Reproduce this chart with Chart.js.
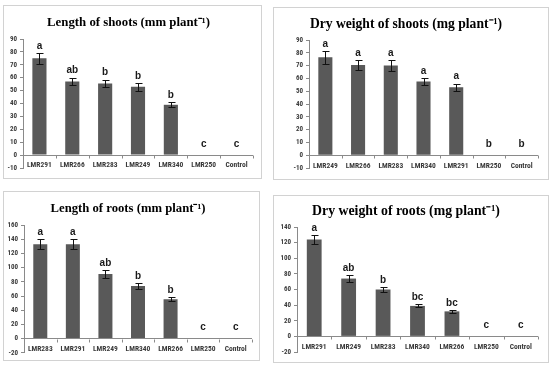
<!DOCTYPE html>
<html><head><meta charset="utf-8">
<script src="https://cdn.jsdelivr.net/npm/chart.js@4.4.0/dist/chart.umd.min.js"></script>
<style>
html,body{margin:0;padding:0;background:#fff;width:550px;height:365px;overflow:hidden}
.box{position:absolute;border:1px solid #d2d2d2;box-sizing:border-box;background:#fff}
.box canvas{display:block}
</style></head><body>
<div class="box" style="left:3px;top:5px;width:259px;height:174px"><canvas id="c1" width="257" height="172"></canvas></div>
<div class="box" style="left:273px;top:7px;width:276px;height:173px"><canvas id="c2" width="274" height="171"></canvas></div>
<div class="box" style="left:3px;top:191px;width:257px;height:170px"><canvas id="c3" width="255" height="168"></canvas></div>
<div class="box" style="left:273px;top:195px;width:276px;height:168px"><canvas id="c4" width="274" height="166"></canvas></div>
<script>
// ---- Data ----
const titleShootLen = 'Length of shoots (mm plant\u207B\u00B9)';
const catsShootLen = ['LMR291','LMR266','LMR283','LMR249','LMR340','LMR250','Control'];
const valsShootLen = [75, 57, 55.5, 53, 39, 0, 0];
const errsShootLen = [4, 3, 3, 3, 2, 0, 0];
const lettersShootLen = ['a','ab','b','b','b','c','c'];
const yTicksShootLen = [-10, 90, 10];

const titleShootDW = 'Dry weight of shoots (mg plant\u207B\u00B9)';
const catsShootDW = ['LMR249','LMR266','LMR283','LMR340','LMR291','LMR250','Control'];
const valsShootDW = [76.5, 70.5, 70, 57.5, 53, 0, 0];
const errsShootDW = [5, 4, 4, 3, 3, 0, 0];
const lettersShootDW = ['a','a','a','a','a','b','b'];
const yTicksShootDW = [-10, 90, 10];

const titleRootLen = 'Length of roots (mm plant\u207B\u00B9)';
const catsRootLen = ['LMR283','LMR291','LMR249','LMR340','LMR266','LMR250','Control'];
const valsRootLen = [133, 133, 91, 74, 55.5, 0, 0];
const errsRootLen = [7, 7, 5, 4, 3, 0, 0];
const lettersRootLen = ['a','a','ab','b','b','c','c'];
const yTicksRootLen = [-20, 160, 20];

const titleRootDW = 'Dry weight of roots (mg plant\u207B\u00B9)';
const catsRootDW = ['LMR291','LMR249','LMR283','LMR340','LMR266','LMR250','Control'];
const valsRootDW = [124, 74, 60, 39, 32, 0, 0];
const errsRootDW = [6, 4, 3, 2, 1.5, 0, 0];
const lettersRootDW = ['a','ab','b','bc','bc','c','c'];
const yTicksRootDW = [-20, 140, 20];

// ---- Drawing ----
const AXIS = '#8a8a8a';
const TICKFONT = '"Liberation Sans Narrow", "Roboto Condensed", "Liberation Sans", Arial, sans-serif';
const decor = {
  id: 'decor',
  afterDatasetsDraw(chart, args, opts) {
    const {ctx} = chart;
    const x = chart.scales.x, y = chart.scales.y;
    const ds = chart.data.datasets[0];
    const meta = chart.getDatasetMeta(0);
    const n = chart.data.labels.length;
    ctx.save();
    ctx.strokeStyle = AXIS; ctx.lineWidth = 1;
    const y0 = Math.round(y.getPixelForValue(0)) + 0.5;
    for (let i = 0; i <= n; i++) {
      const px = Math.round(x.getPixelForValue(i - 0.5)) + 0.5;
      ctx.beginPath(); ctx.moveTo(px, y0); ctx.lineTo(px, y0 + 3); ctx.stroke();
    }
    ctx.strokeStyle = '#111';
    ctx.fillStyle = '#1a1a1a';
    ctx.font = 'bold 10px "Liberation Sans", Arial, sans-serif';
    ctx.textAlign = 'center'; ctx.textBaseline = 'middle';
    meta.data.forEach((bar, i) => {
      const v = ds.data[i], e = opts.errors[i];
      const cx = Math.round(bar.x) + 0.5;
      if (e > 0) {
        const yt = Math.round(y.getPixelForValue(v + e)) + 0.5;
        const yb = Math.round(y.getPixelForValue(v - e)) + 0.5;
        ctx.beginPath();
        ctx.moveTo(cx, yt); ctx.lineTo(cx, yb);
        ctx.moveTo(cx - 3, yt); ctx.lineTo(cx + 4, yt);
        ctx.moveTo(cx - 3, yb); ctx.lineTo(cx + 4, yb);
        ctx.stroke();
      }
      const top = y.getPixelForValue(v + e);
      ctx.fillText(opts.letters[i], bar.x, top - 7 - (e === 0 ? 4 : 0));
    });
    ctx.restore();
  }
};

function makeChart(id, title, cats, vals, errs, letters, yt, L) {
  new Chart(document.getElementById(id), {
    type: 'bar',
    data: { labels: cats, datasets: [{ data: vals, backgroundColor: '#595959', borderWidth: 0, barPercentage: 0.43, categoryPercentage: 1 }] },
    options: {
      responsive: false, animation: false, devicePixelRatio: 1,
      layout: { padding: { left: 0, right: L.padR, top: 0, bottom: 0 } },
      plugins: {
        legend: { display: false }, tooltip: { enabled: false },
        title: { display: true, text: title, color: '#000',
          font: { family: '"Liberation Serif", "Times New Roman", serif', size: L.tSize, weight: 'bold', lineHeight: 1.2 },
          padding: { top: L.tTop, bottom: L.tBot } },
        decor: { errors: errs, letters: letters }
      },
      scales: {
        x: {
          offset: true,
          grid: { display: false, drawTicks: false },
          border: { display: false },
          ticks: { color: '#3a3a3a', padding: L.xPad, mirror: true, maxRotation: 0, autoSkip: false,
            font: { family: TICKFONT, size: 7.5, weight: 'bold' } },
          afterFit: s => { s.height = L.xH; }
        },
        y: {
          min: yt[0], max: yt[1],
          ticks: { stepSize: yt[2], color: '#3a3a3a', padding: 3,
            font: { family: TICKFONT, size: 7, weight: 'bold' } },
          grid: { color: c => (c.tick && c.tick.value === 0) ? AXIS : 'rgba(0,0,0,0)', tickColor: AXIS, tickLength: 3, drawOnChartArea: true },
          border: { display: true, color: AXIS },
          afterFit: s => { s.width = L.yW; }
        }
      }
    },
    plugins: [decor]
  });
}

makeChart('c1', titleShootLen, catsShootLen, valsShootLen, errsShootLen, lettersShootLen, yTicksShootLen,
  { padR: 8, tSize: 12.8, tTop: 8.8, tBot: 8.84, xH: 10, xPad: -1.8, yW: 19 });
makeChart('c2', titleShootDW, catsShootDW, valsShootDW, errsShootDW, lettersShootDW, yTicksShootDW,
  { padR: 10, tSize: 13.6, tTop: 7.84, tBot: 7.84, xH: 11, xPad: -2.3, yW: 35 });
makeChart('c3', titleRootLen, catsRootLen, valsRootLen, errsRootLen, lettersRootLen, yTicksRootLen,
  { padR: 7, tSize: 12.7, tTop: 8.88, tBot: 8.88, xH: 7, xPad: -0.8, yW: 20 });
makeChart('c4', titleRootDW, catsRootDW, valsRootDW, errsRootDW, lettersRootDW, yTicksRootDW,
  { padR: 10, tSize: 13.8, tTop: 6.72, tBot: 7.72, xH: 10, xPad: 0.2, yW: 23 });
</script>
</body></html>
